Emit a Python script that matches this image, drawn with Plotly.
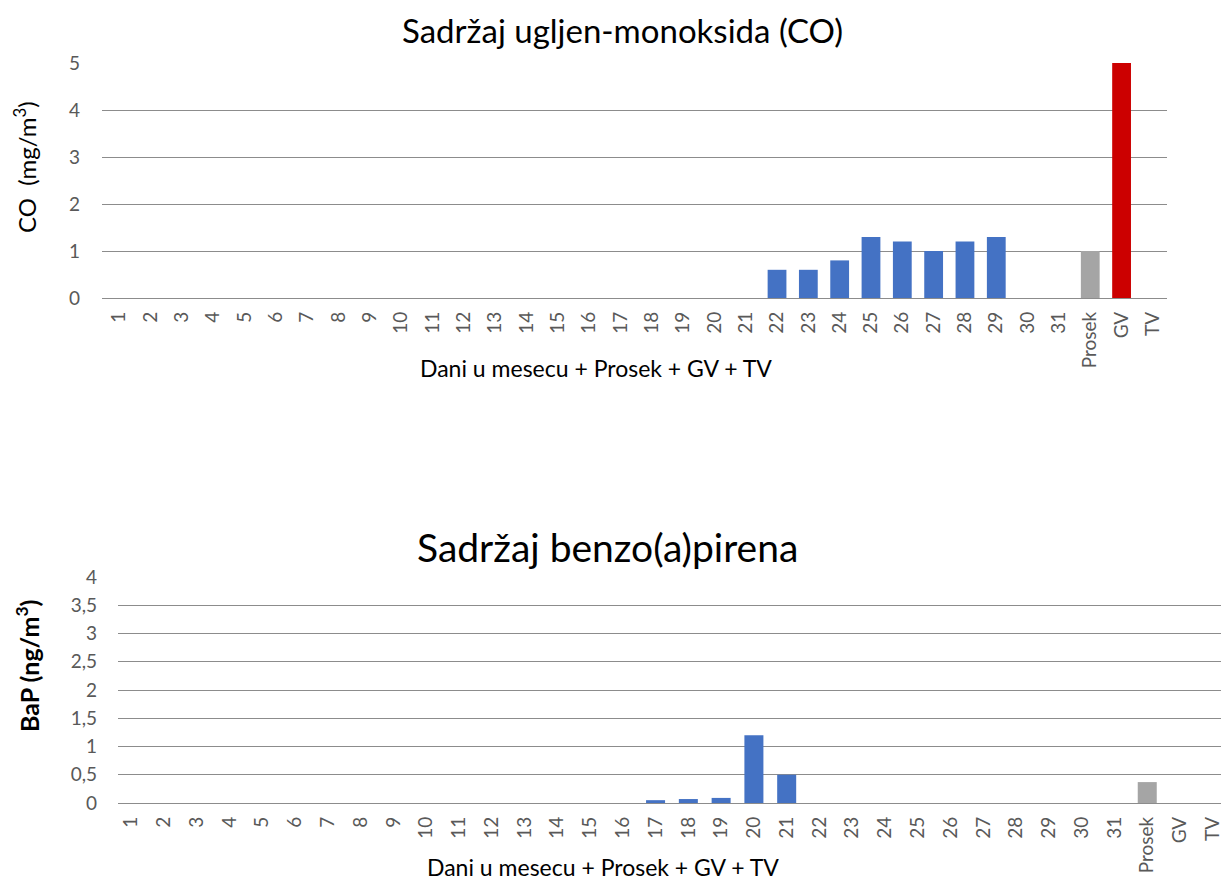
import plotly.graph_objects as go

categories = [str(i) for i in range(1, 32)] + ["Prosek", "GV", "TV"]

# CO (mg/m3) daily values, days 1..31 (None = no measurement)
co_days = [None] * 21 + [0.6, 0.6, 0.8, 1.3, 1.2, 1.0, 1.2, 1.3, None, None]
co_prosek = 1.0
co_gv = 5.0
co_tv = None

# BaP (ng/m3) daily values, days 1..31
bap_days = [None] * 16 + [0.05, 0.07, 0.09, 1.2, 0.5] + [None] * 10
bap_prosek = 0.37
bap_gv = None
bap_tv = None

bap_ticks = [0, 0.5, 1, 1.5, 2, 2.5, 3, 3.5, 4]
bap_ticktext = ["0", "0,5", "1", "1,5", "2", "2,5", "3", "3,5", "4"]

BLUE = "#4472c4"
GRAY = "#a5a5a5"
RED = "#cc0000"
FONT = "Lato"
W, H = 1221, 881

co_vals = co_days + [co_prosek, co_gv, co_tv]
bap_vals = bap_days + [bap_prosek, bap_gv, bap_tv]
co_colors = [BLUE] * 31 + [GRAY, RED, GRAY]
bap_colors = [BLUE] * 31 + [GRAY, RED, GRAY]

fig = go.Figure()
fig.add_trace(go.Bar(x=categories, y=co_vals, marker=dict(color=co_colors, line=dict(width=0)),
                     width=0.6, xaxis="x", yaxis="y", showlegend=False))
fig.add_trace(go.Bar(x=categories, y=bap_vals, marker=dict(color=bap_colors, line=dict(width=0)),
                     width=0.58, xaxis="x2", yaxis="y2", showlegend=False))

tickfont = dict(family=FONT, size=19, color="#595959")
grid = "#8c8c8c"

fig.update_layout(
    width=W, height=H,
    margin=dict(l=0, r=0, t=0, b=0, autoexpand=False),
    paper_bgcolor="white", plot_bgcolor="white",
    xaxis=dict(domain=[102 / W, 1167 / W], anchor="y", type="category",
               range=[-0.55, 33.45], tickangle=-90, tickfont=tickfont, automargin=False,
               showgrid=False, showline=False, ticks="", ticklabelstandoff=9),
    yaxis=dict(domain=[1 - 298 / H, 1 - 63 / H], anchor="x", range=[0, 5], automargin=False,
               dtick=1, tickfont=tickfont, gridcolor=grid, gridwidth=1.3,
               zeroline=True, zerolinecolor=grid, zerolinewidth=1.3,
               showline=False, ticks="", ticklabelstandoff=21),
    xaxis2=dict(domain=[118 / W, 1.0], anchor="y2", type="category", automargin=False,
                range=[-0.4, 33.25], tickangle=-90, tickfont=tickfont,
                showgrid=False, showline=False, ticks="", ticklabelstandoff=9),
    yaxis2=dict(domain=[1 - 803 / H, 1 - 577 / H], anchor="x2", range=[0, 4], automargin=False,
                tickvals=bap_ticks, ticktext=bap_ticktext, tickfont=tickfont,
                gridcolor=grid, gridwidth=1.3,
                zeroline=True, zerolinecolor=grid, zerolinewidth=1.3,
                showline=False, ticks="", ticklabelstandoff=20),
)

ann = [
    dict(text="Sadržaj ugljen-monoksida (CO)", x=623 / W, y=1 - 30 / H, size=33),
    dict(text="Sadržaj benzo(a)pirena", x=607 / W, y=1 - 547 / H, size=39),
    dict(text="Dani u mesecu + Prosek + GV + TV", x=596 / W, y=1 - 368 / H, size=23),
    dict(text="Dani u mesecu + Prosek + GV + TV", x=603 / W, y=1 - 867 / H, size=23),
]
annotations = []
for a in ann:
    annotations.append(dict(text=a["text"], x=a["x"], y=a["y"], xref="paper", yref="paper",
                            xanchor="center", yanchor="middle", showarrow=False,
                            font=dict(family=FONT, size=a["size"], color="#000000")))
annotations.append(dict(text="CO  (mg/m<sup>3</sup>)", x=25 / W, y=1 - 167 / H, xref="paper", yref="paper",
                        xanchor="center", yanchor="middle", showarrow=False, textangle=-90,
                        font=dict(family=FONT, size=24, color="#000000")))
annotations.append(dict(text="<b>BaP (ng/m<sup>3</sup>)</b>", x=27 / W, y=1 - 666 / H, xref="paper", yref="paper",
                        xanchor="center", yanchor="middle", showarrow=False, textangle=-90,
                        font=dict(family=FONT, size=25, color="#000000")))
fig.update_layout(annotations=annotations)

fig.write_html("out.html", config={"displayModeBar": False},
               post_script="document.body.style.margin='0';document.body.style.overflow='hidden';")
